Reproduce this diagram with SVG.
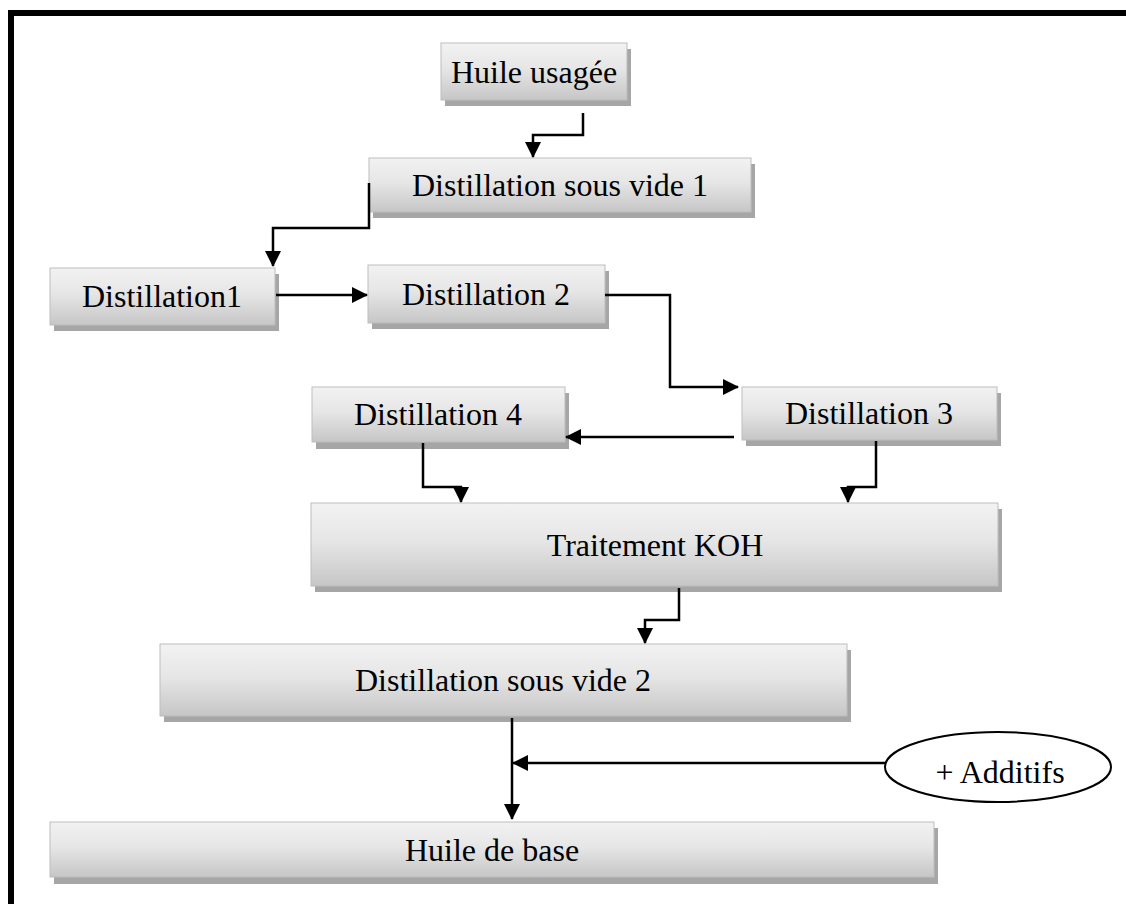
<svg xmlns="http://www.w3.org/2000/svg" width="1126" height="904" viewBox="0 0 1126 904">
<defs>
<linearGradient id="g" x1="0" y1="0" x2="0" y2="1">
<stop offset="0" stop-color="#f2f2f2"/>
<stop offset="0.45" stop-color="#e6e6e6"/>
<stop offset="1" stop-color="#c6c6c6"/>
</linearGradient>
<marker id="a" markerUnits="userSpaceOnUse" markerWidth="16" markerHeight="16" viewBox="0 0 16 16" refX="15" refY="8" orient="auto">
<path d="M0,0 L16,8 L0,16 Z" fill="#000"/>
</marker>
<style>
.sh{fill:#a6a6a6}
.bx{fill:url(#g);stroke:#bdbdbd;stroke-width:1}
.t{font-family:"Liberation Serif","Times New Roman",serif;font-size:32px;fill:#000;text-anchor:middle}
.c{fill:none;stroke:#000;stroke-width:2.5;marker-end:url(#a)}
.l{fill:none;stroke:#000;stroke-width:2.5}
</style>
</defs>
<rect width="1126" height="904" fill="#fff"/>
<path d="M11,904 V13 H1126" fill="none" stroke="#000" stroke-width="6"/>

<g id="n1"><rect class="sh" x="445" y="49" width="186" height="57"/><rect class="bx" x="441" y="43" width="186" height="57"/><text class="t" x="534" y="83">Huile usagée</text></g>
<g id="n2"><rect class="sh" x="373" y="164" width="382" height="54"/><rect class="bx" x="369" y="158" width="382" height="54"/><text class="t" x="560" y="196">Distillation sous vide 1</text></g>
<g id="n3"><rect class="sh" x="54" y="274" width="225" height="57"/><rect class="bx" x="50" y="268" width="225" height="57"/><text class="t" x="162" y="307">Distillation1</text></g>
<g id="n4"><rect class="sh" x="372" y="271" width="237" height="58"/><rect class="bx" x="368" y="265" width="237" height="58"/><text class="t" x="486" y="305">Distillation 2</text></g>
<g id="n5"><rect class="sh" x="746" y="393" width="255" height="53"/><rect class="bx" x="742" y="387" width="255" height="53"/><text class="t" x="869" y="424">Distillation 3</text></g>
<g id="n6"><rect class="sh" x="316" y="393" width="253" height="56"/><rect class="bx" x="312" y="387" width="253" height="55"/><text class="t" x="438" y="425">Distillation 4</text></g>
<g id="n7"><rect class="sh" x="315" y="509" width="687" height="83"/><rect class="bx" x="311" y="503" width="687" height="83"/><text class="t" x="655" y="556">Traitement KOH</text></g>
<g id="n8"><rect class="sh" x="164" y="650" width="687" height="72"/><rect class="bx" x="160" y="644" width="687" height="72"/><text class="t" x="503" y="691">Distillation sous vide 2</text></g>
<g id="n9"><rect class="sh" x="54" y="828" width="884" height="56"/><rect class="bx" x="50" y="822" width="884" height="55"/><text class="t" x="492" y="861">Huile de base</text></g>
<g id="n10"><ellipse cx="998" cy="767" rx="113" ry="35" fill="#fff" stroke="#000" stroke-width="2"/><text class="t" x="1000" y="783">+ Additifs</text></g>

<g id="connectors">
<path class="c" d="M583,113 V135 H533 V157"/>
<path class="c" d="M369,183 V228 H273 V266"/>
<path class="c" d="M276,295 H367"/>
<path class="c" d="M605,295 H670 V387 H738"/>
<path class="c" d="M734,437 H566"/>
<path class="c" d="M423,443 V487 H461 V502"/>
<path class="c" d="M876,441 V487 H848 V502"/>
<path class="c" d="M679,588 V620 H645 V643"/>
<path class="c" d="M512,718 V819"/>
<path class="c" d="M885,763 H513"/>
</g>
</svg>
